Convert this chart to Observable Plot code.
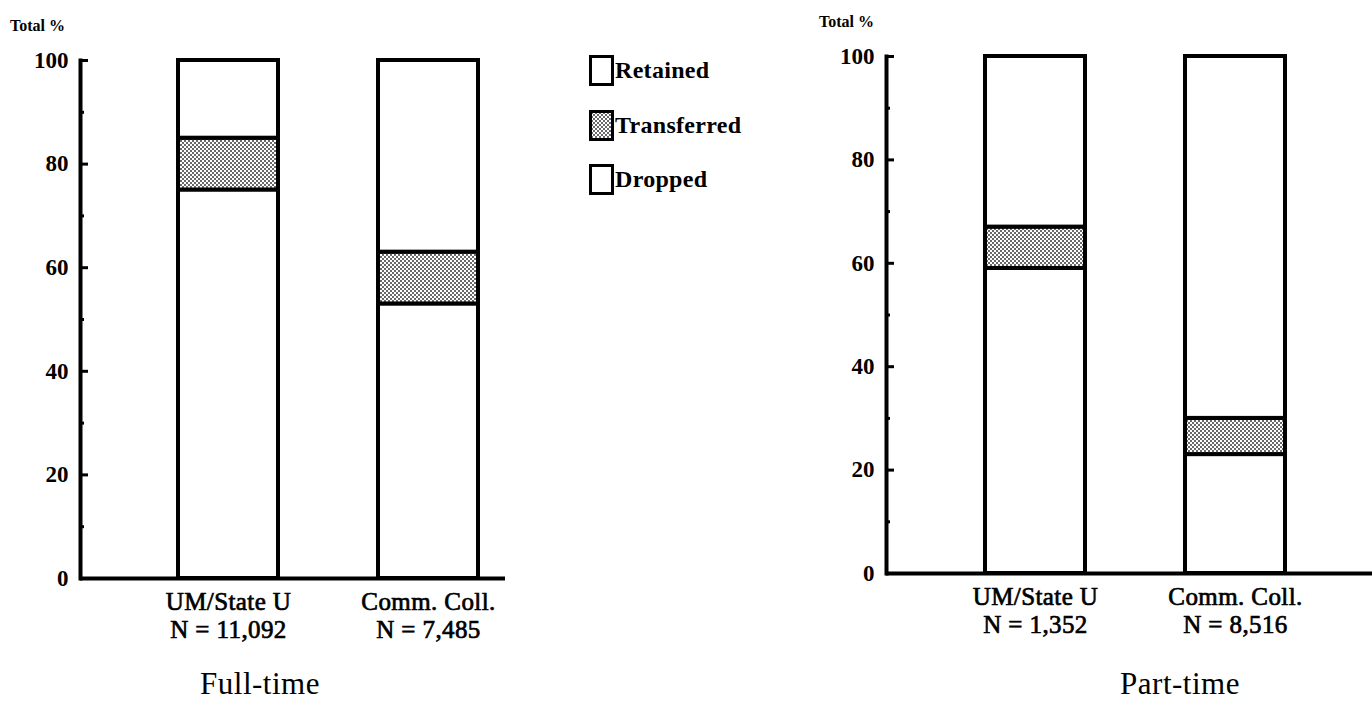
<!DOCTYPE html>
<html><head><meta charset="utf-8">
<script src="https://cdn.jsdelivr.net/npm/d3@7"></script>
<script src="https://cdn.jsdelivr.net/npm/@observablehq/plot@0.6"></script>
<style>
html,body{margin:0;padding:0;background:#fff;}
body{width:1372px;height:701px;overflow:hidden;position:relative;font-family:"Liberation Serif","DejaVu Serif",serif;color:#000;}
.abs{position:absolute;white-space:nowrap;}
.ytitle{font-size:16px;font-weight:bold;line-height:18px;}
.panel-title{font-size:31px;line-height:32px;transform:translateX(-50%);letter-spacing:0.5px;}
.leg-row{position:absolute;left:589px;height:32px;display:flex;align-items:center;}
.leg-text{font-size:24px;font-weight:bold;letter-spacing:0.3px;}
</style></head><body>
<svg width="0" height="0" style="position:absolute">
  <defs>
    <pattern id="stipple" width="4" height="4" patternUnits="userSpaceOnUse">
      <rect width="4" height="4" fill="#fff"/>
      <circle cx="1" cy="1" r="0.9" fill="#222"/>
      <circle cx="3" cy="3" r="0.9" fill="#222"/>
    </pattern>
  </defs>
</svg>
<div id="left" class="abs" style="left:0;top:0"></div>
<div id="right" class="abs" style="left:806px;top:0"></div>
<div class="abs ytitle" style="left:10px;top:17px">Total %</div>
<div class="abs ytitle" style="left:819px;top:13px">Total %</div>
<div id="legend"></div>
<div class="abs panel-title" style="left:260px;top:668px">Full-time</div>
<div class="abs panel-title" style="left:1180px;top:668px">Part-time</div>
<script>
const institutions = ["UM/State U", "Comm. Coll."];
const statuses = ["Retained", "Transferred", "Dropped"];
const fullTimeN = ["11,092", "7,485"];
const partTimeN = ["1,352", "8,516"];
const fullTimeRetained = [75, 53];
const fullTimeTransferred = [10, 10];
const fullTimeDropped = [15, 37];
const partTimeRetained = [59, 23];
const partTimeTransferred = [8, 7];
const partTimeDropped = [33, 70];
const yTicks = [0, 20, 40, 60, 80, 100];
const yMinorTicks = [10, 30, 50, 70, 90];
const statusFills = ["#fff", "url(#stipple)", "#fff"];
const FONT = '"Liberation Serif","DejaVu Serif",serif';

function panel({retained, transferred, dropped, ns, width, height, marginTop, marginBottom, marginRight, paddingOuter, align}) {
  const rows = [];
  institutions.forEach((inst, i) => {
    rows.push({inst, status: "Retained", value: retained[i]});
    rows.push({inst, status: "Transferred", value: transferred[i]});
    rows.push({inst, status: "Dropped", value: dropped[i]});
  });
  const frameW = width - 80 - marginRight;
  const svg = Plot.plot({
    width, height, marginLeft: 80, marginRight, marginTop, marginBottom,
    style: {fontFamily: FONT, background: "#fff", overflow: "visible", color: "#000"},
    x: {domain: institutions, paddingInner: 0.5, paddingOuter, align},
    y: {domain: [0, 100]},
    color: {type: "ordinal", domain: statuses, range: statusFills},
    marks: [
      Plot.barY(rows, {x: "inst", y: "value", fill: "status", order: statuses, stroke: "#000", strokeWidth: 4}),
      Plot.ruleY(yTicks, {y: d => d, insetRight: frameW - 8, strokeWidth: 3}),
      Plot.ruleY(yMinorTicks, {y: d => d, insetRight: frameW - 4, strokeWidth: 3}),
      Plot.axisY(yTicks, {tickSize: 0, tickPadding: 12, fontSize: 23, fontWeight: "bold", label: null}),
      Plot.axisX({tickSize: 0, tickPadding: 12, fontSize: 25, lineHeight: 1.12, label: null,
        tickFormat: d => `${d}\nN = ${ns[institutions.indexOf(d)]}`}),
      Plot.ruleY([0], {strokeWidth: 4}),
      Plot.frame({anchor: "left", strokeWidth: 4})
    ]
  });
  d3.select(svg).selectAll("[aria-label='x-axis tick label'] text")
    .style("stroke", "#000").style("stroke-width", "0.7px").style("letter-spacing", "0.4px");
  return svg;
}

document.getElementById("left").append(panel({
  retained: fullTimeRetained, transferred: fullTimeTransferred, dropped: fullTimeDropped, ns: fullTimeN,
  width: 540, height: 650, marginTop: 60, marginBottom: 72, marginRight: 35,
  paddingOuter: 0.3125, align: 0.784
}));
document.getElementById("right").append(panel({
  retained: partTimeRetained, transferred: partTimeTransferred, dropped: partTimeDropped, ns: partTimeN,
  width: 566, height: 650, marginTop: 56, marginBottom: 77, marginRight: 0,
  paddingOuter: 0.465, align: 0.532
}));

const legendTops = [54, 109, 163];
const legend = document.getElementById("legend");
statuses.forEach((s, i) => {
  const row = document.createElement("div");
  row.className = "leg-row";
  row.style.top = legendTops[i] + "px";
  const sw = document.createElementNS("http://www.w3.org/2000/svg", "svg");
  sw.setAttribute("width", 25); sw.setAttribute("height", 31);
  sw.style.marginRight = "1px";
  sw.innerHTML = `<rect x="1.5" y="1.5" width="22" height="28" fill="${statusFills[i]}" stroke="#000" stroke-width="3"/>`;
  const t = document.createElement("span");
  t.className = "leg-text"; t.textContent = s;
  row.append(sw, t);
  legend.append(row);
});
</script>
</body></html>
